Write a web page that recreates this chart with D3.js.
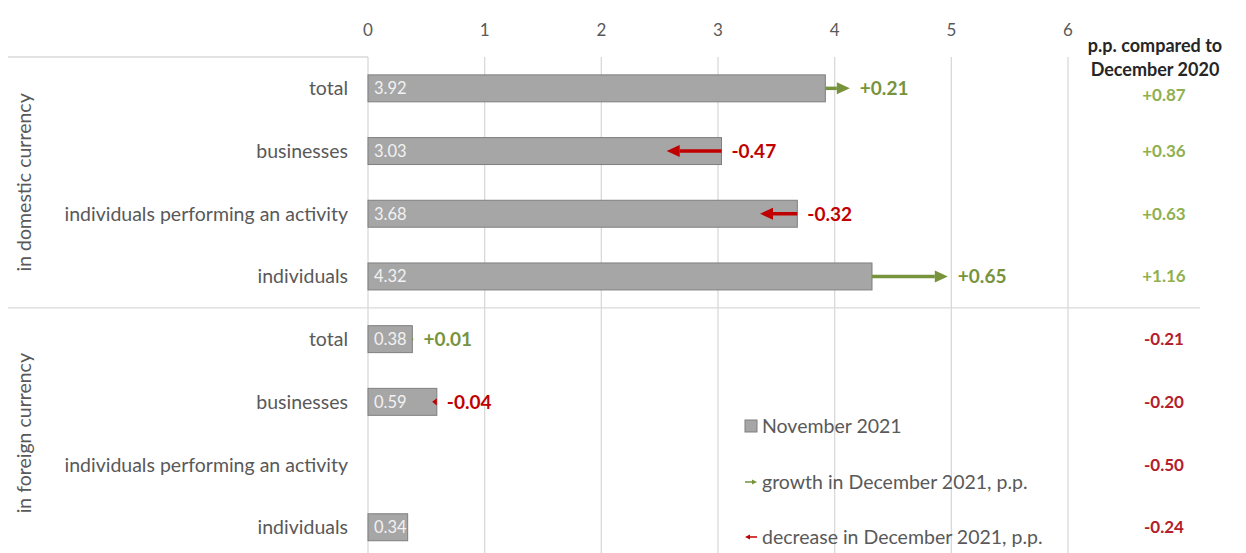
<!DOCTYPE html>
<html>
<head>
<meta charset="utf-8">
<script src="https://cdn.jsdelivr.net/npm/d3@7"></script>
<style>
  body { margin: 0; background: #fff; }
  text { font-family: Lato, "Open Sans", sans-serif; }
</style>
</head>
<body>
<div id="container"></div>
<script>
"use strict"

const groups = ["in domestic currency", "in foreign currency"];
const categories = ["total", "businesses", "individuals performing an activity", "individuals"];
const novemberDomestic = [3.92, 3.03, 3.68, 4.32];
const novemberForeign = [0.38, 0.59, null, 0.34];
const changeDomestic = [0.21, -0.47, -0.32, 0.65];
const changeForeign = [0.01, -0.04, null, null];
const yearDomestic = [0.87, 0.36, 0.63, 1.16];
const yearForeign = [-0.21, -0.20, -0.50, -0.24];
const xTicks = [0, 1, 2, 3, 4, 5, 6];
const legendLabels = ["November 2021", "growth in December 2021, p.p.", "decrease in December 2021, p.p."];

const width = 1246;
const height = 553;
const green = "#77933c";
const red = "#c00000";
const lightGreen = "#8fb04e";
const darkRed = "#b3202a";
const gridColor = "#d9d9d9";
const textColor = "#595959";

// flatten rows
const rows = [];
groups.forEach((g, gi) => {
    categories.forEach((c, ci) => {
        rows.push({
            group: gi,
            name: c,
            value: gi == 0 ? novemberDomestic[ci] : novemberForeign[ci],
            change: gi == 0 ? changeDomestic[ci] : changeForeign[ci],
            year: gi == 0 ? yearDomestic[ci] : yearForeign[ci],
            index: rows.length
        });
    });
});

const x = d3.scaleLinear().domain([0, 6]).range([368, 1068]);
const y = d3.scaleBand().domain(rows.map(d => d.index)).range([57, 558.6]).paddingInner(0.57).paddingOuter(0.285);
const rowStep = y.step();
const mid = i => y(i) + y.bandwidth() / 2;

const svg = d3.select("#container").append("svg")
    .attr("width", width)
    .attr("height", height);

// arrow as shaft + triangular head, head shrinks for very short arrows
function ArrowPath(x1, x2, yy, headLen, halfHead)
{
    const dir = x2 >= x1 ? 1 : -1;
    const len = Math.abs(x2 - x1);
    const hl = Math.min(headLen, len);
    const hh = len < headLen ? Math.max(2, halfHead * len / headLen + 1.5) : halfHead;
    const p = d3.path();
    const base = x2 - dir * hl;
    p.moveTo(x2, yy);
    p.lineTo(base, yy - hh);
    p.lineTo(base, yy + hh);
    p.closePath();
    return { head: p.toString(), base: base };
}

// gridlines
svg.append("g")
    .selectAll("line")
    .data(xTicks)
    .enter()
    .append("line")
    .attr("x1", d => x(d))
    .attr("x2", d => x(d))
    .attr("y1", 57)
    .attr("y2", height)
    .attr("stroke", gridColor)
    .attr("stroke-width", 1.3);

// tick labels
svg.append("g")
    .selectAll("text")
    .data(xTicks)
    .enter()
    .append("text")
    .attr("x", d => x(d))
    .attr("y", 36)
    .attr("text-anchor", "middle")
    .attr("font-size", 17)
    .attr("fill", textColor)
    .text(d => d);

// horizontal frame lines
svg.append("line")
    .attr("x1", 8).attr("x2", x(0))
    .attr("y1", 57).attr("y2", 57)
    .attr("stroke", gridColor).attr("stroke-width", 1.3);
svg.append("line")
    .attr("x1", 8).attr("x2", 1200)
    .attr("y1", 57 + rowStep * 4).attr("y2", 57 + rowStep * 4)
    .attr("stroke", gridColor).attr("stroke-width", 1.3);

// group labels
svg.append("g")
    .selectAll("text")
    .data(groups)
    .enter()
    .append("text")
    .attr("transform", (d, i) => `translate(31, ${57 + rowStep * (4 * i + 2)}) rotate(-90)`)
    .attr("text-anchor", "middle")
    .attr("font-size", 19.5)
    .attr("fill", textColor)
    .text(d => d);

// category labels
svg.append("g")
    .selectAll("text")
    .data(rows)
    .enter()
    .append("text")
    .attr("x", 348)
    .attr("y", d => mid(d.index) + 7)
    .attr("text-anchor", "end")
    .attr("font-size", 19.5)
    .attr("fill", textColor)
    .text(d => d.name);

const barRows = rows.filter(d => d.value != null);

// bars
svg.append("g")
    .selectAll("rect")
    .data(barRows)
    .enter()
    .append("rect")
    .attr("x", x(0))
    .attr("y", d => y(d.index))
    .attr("width", d => x(d.value) - x(0))
    .attr("height", y.bandwidth())
    .attr("fill", "#a6a6a6")
    .attr("stroke", "#7f7f7f")
    .attr("stroke-width", 1);

// values inside bars
svg.append("g")
    .selectAll("text")
    .data(barRows)
    .enter()
    .append("text")
    .attr("x", x(0) + 6)
    .attr("y", d => mid(d.index) + 6)
    .attr("font-size", 16.5)
    .attr("fill", "#f2f2f2")
    .text(d => d.value.toFixed(2));

const changeRows = rows.filter(d => d.change != null);

// change arrows
const arrows = svg.append("g")
    .selectAll("g")
    .data(changeRows)
    .enter()
    .append("g")
    .attr("fill", d => d.change > 0 ? green : red)
    .attr("stroke", d => d.change > 0 ? green : red);

arrows.append("line")
    .attr("x1", d => x(d.value))
    .attr("x2", d => ArrowPath(x(d.value), x(d.value + d.change), mid(d.index), 13, 6).base)
    .attr("y1", d => mid(d.index))
    .attr("y2", d => mid(d.index))
    .attr("stroke-width", 3.5);

arrows.append("path")
    .attr("stroke", "none")
    .attr("d", d => ArrowPath(x(d.value), x(d.value + d.change), mid(d.index), 13, 6).head);

// change labels
svg.append("g")
    .selectAll("text")
    .data(changeRows)
    .enter()
    .append("text")
    .attr("x", d => x(Math.max(d.value, d.value + d.change)) + 10)
    .attr("y", d => mid(d.index) + 7)
    .attr("font-size", 19)
    .attr("font-weight", "bold")
    .attr("fill", d => d.change > 0 ? green : red)
    .text(d => (d.change > 0 ? "+" : "") + d.change.toFixed(2));

// right column header
const header = svg.append("text")
    .attr("x", 1155)
    .attr("text-anchor", "middle")
    .attr("font-size", 18)
    .attr("font-weight", "bold")
    .attr("fill", "#262626");
header.append("tspan").attr("x", 1155).attr("y", 52).text("p.p. compared to");
header.append("tspan").attr("x", 1155).attr("y", 76).text("December 2020");

// right column values
svg.append("g")
    .selectAll("text")
    .data(rows)
    .enter()
    .append("text")
    .attr("x", 1164)
    .attr("y", d => mid(d.index) + 6 + (d.index == 0 ? 7 : 0))
    .attr("text-anchor", "middle")
    .attr("font-size", 17)
    .attr("font-weight", "bold")
    .attr("fill", d => d.year > 0 ? lightGreen : darkRed)
    .text(d => (d.year > 0 ? "+" : "") + d.year.toFixed(2));

// legend
const legend = svg.append("g").attr("transform", "translate(745, 0)");
const legendY = [426, 482, 537];
legend.append("rect")
    .attr("x", 0).attr("y", legendY[0] - 6)
    .attr("width", 12).attr("height", 12)
    .attr("fill", "#a6a6a6").attr("stroke", "#7f7f7f");

const legendArrows = [[0, 12, green, legendY[1]], [12, 0, red, legendY[2]]];
legendArrows.forEach(a => {
    const ap = ArrowPath(a[0], a[1], a[3], 5, 2.5);
    legend.append("line")
        .attr("x1", a[0]).attr("x2", ap.base)
        .attr("y1", a[3]).attr("y2", a[3])
        .attr("stroke", a[2]).attr("stroke-width", 1.5);
    legend.append("path")
        .attr("d", ap.head)
        .attr("fill", a[2]);
});

legend.selectAll("text")
    .data(legendLabels)
    .enter()
    .append("text")
    .attr("x", 17)
    .attr("y", (d, i) => legendY[i] + 7)
    .attr("font-size", 19.5)
    .attr("fill", textColor)
    .text(d => d);
</script>
</body>
</html>
